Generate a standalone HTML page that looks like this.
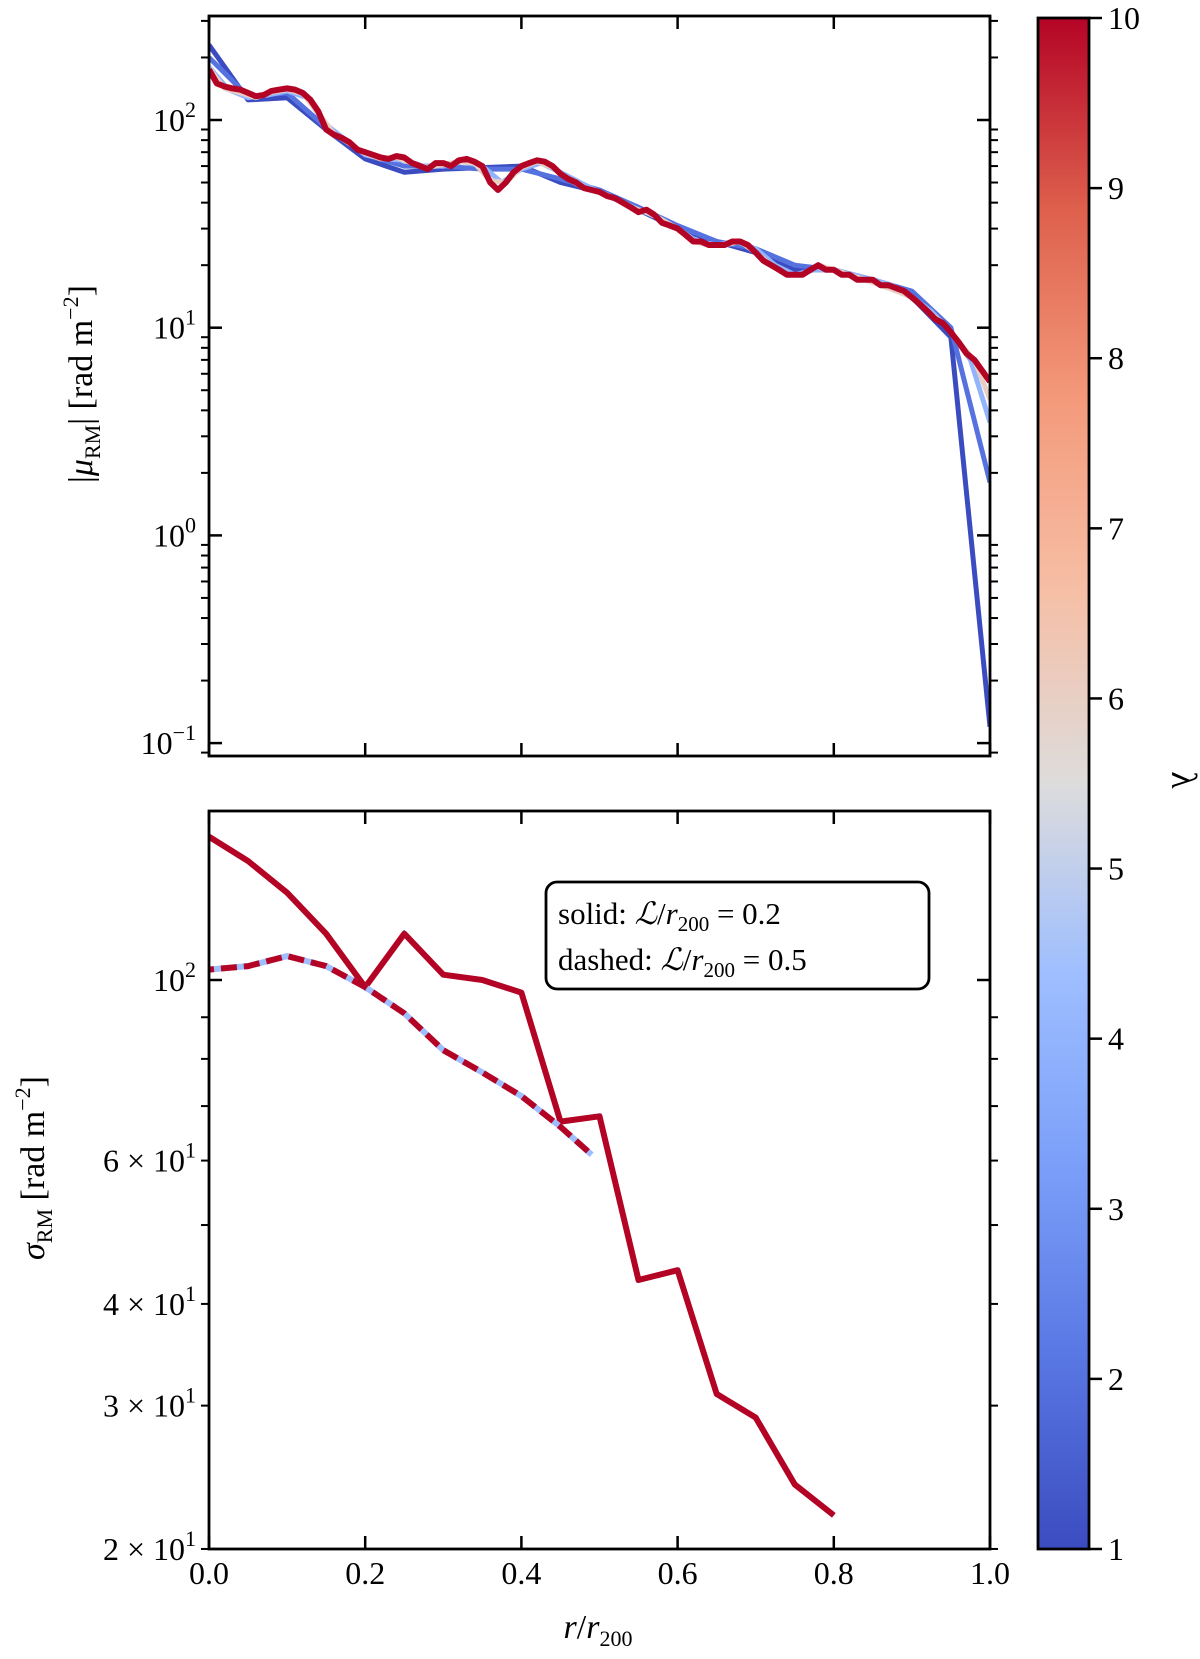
<!DOCTYPE html>
<html><head><meta charset="utf-8"><style>
body{margin:0;background:#fff;}
svg{display:block;font-family:"Liberation Serif",serif;}
</style></head><body>
<svg id="fig" width="1200" height="1659" viewBox="0 0 1200 1659" xmlns="http://www.w3.org/2000/svg">
<defs>
<linearGradient id="cw" x1="0" y1="1" x2="0" y2="0">
<stop offset="0" stop-color="#3b4cc0"/><stop offset="0.125" stop-color="#5977e3"/>
<stop offset="0.25" stop-color="#7b9ff9"/><stop offset="0.375" stop-color="#9ebeff"/>
<stop offset="0.5" stop-color="#dddcdc"/><stop offset="0.625" stop-color="#f6bfa6"/>
<stop offset="0.75" stop-color="#f49a7b"/><stop offset="0.875" stop-color="#de604d"/>
<stop offset="1" stop-color="#b40426"/></linearGradient>
<clipPath id="c1"><rect x="209" y="16" width="781" height="740"/></clipPath>
<clipPath id="c2"><rect x="209" y="811" width="781" height="738"/></clipPath>
</defs>
<g id="topPanel"></g>
<g id="botPanel"></g>
<g id="cbar"></g>
</svg>
<script>
// ---- data ----
const lam1R=[0,0.05,0.1,0.15,0.2,0.25,0.3,0.35,0.4,0.45,0.5,0.55,0.6,0.65,0.7,0.75,0.8,0.85,0.9,0.95,1.0];
const lam1V=[230,125,128,90,65,56,58,59,60,50,45,37,30,26,23,19,19,17,14,9,0.12];
const lam2R=[0,0.05,0.1,0.15,0.2,0.25,0.3,0.35,0.4,0.45,0.5,0.55,0.6,0.65,0.7,0.75,0.8,0.85,0.9,0.95,1.0];
const lam2V=[200,130,135,92,68,60,60,58,58,52,46,38,31,26,24,20,19,17,15,10,1.8];
const lam4R=[0,0.025,0.05,0.075,0.1,0.125,0.15,0.175,0.2,0.225,0.25,0.275,0.3,0.325,0.35,0.375,0.4,0.425,0.45,0.475,0.5,0.525,0.55,0.575,0.6,0.625,0.65,0.675,0.7,0.725,0.75,0.775,0.8,0.825,0.85,0.875,0.9,0.925,0.95,0.975,1.0];
const lam4V=[180,140,128,132,138,128,95,80,68,65,64,60,60,63,60,50,58,62,56,50,45,41,37,34,30,26,25,26,24,20,18,19,19,18,17,16,14,12,9.5,7,3.5];
const lam6R=[0,0.02,0.04,0.06,0.08,0.1,0.12,0.14,0.16,0.18,0.2,0.22,0.24,0.26,0.28,0.3,0.32,0.34,0.36,0.38,0.4,0.42,0.44,0.46,0.48,0.5,0.52,0.54,0.56,0.58,0.6,0.62,0.64,0.66,0.68,0.7,0.72,0.74,0.76,0.78,0.8,0.82,0.84,0.86,0.88,0.9,0.92,0.94,0.96,0.98,1.0];
const lam6V=[178,142,135,128,136,140,134,108,86,77,69,65,66,62,59,61,63,62,51,50,59,63,59,52,47,45,42,38,36,33,30,26,25,25,26,23,20,18,18,20,19,18,17,16,15,14,12,10.5,8.5,7,4.5];
const lam10R=[0,0.01,0.02,0.03,0.04,0.05,0.06,0.07,0.08,0.09,0.1,0.11,0.12,0.13,0.14,0.15,0.16,0.17,0.18,0.19,0.2,0.21,0.22,0.23,0.24,0.25,0.26,0.27,0.28,0.29,0.3,0.31,0.32,0.33,0.34,0.35,0.36,0.37,0.38,0.39,0.4,0.41,0.42,0.43,0.44,0.45,0.46,0.47,0.48,0.49,0.5,0.51,0.52,0.53,0.54,0.55,0.56,0.57,0.58,0.59,0.6,0.61,0.62,0.63,0.64,0.65,0.66,0.67,0.68,0.69,0.7,0.71,0.72,0.73,0.74,0.75,0.76,0.77,0.78,0.79,0.8,0.81,0.82,0.83,0.84,0.85,0.86,0.87,0.88,0.89,0.9,0.91,0.92,0.93,0.94,0.95,0.96,0.97,0.98,0.99,1.0];
const lam10V=[175,150,145,142,140,135,130,132,138,140,142,140,135,125,110,90,85,82,78,72,70,68,66,65,67,66,62,60,58,62,62,60,64,65,63,60,50,46,50,56,60,62,64,63,60,55,52,50,47,46,45,43,42,40,38,36,37,35,32,31,30,28,26,26,25,25,25,26,26,25,23,21,20,19,18,18,18,19,20,19,19,18,18,17,17,17,16,16,15.5,15,14,13,12,11,10.5,9.5,8.5,7.5,7,6.2,5.5];
const solidR=[0,0.05,0.1,0.15,0.2,0.25,0.3,0.35,0.4,0.45,0.5,0.55,0.6,0.65,0.7,0.75,0.8];
const solidV=[150,140,128,114,98,114,101.5,100,96.5,67,68,42.8,44,31,29,24,22];
const dashR=[0,0.05,0.1,0.15,0.2,0.25,0.3,0.35,0.4,0.45,0.49];
const dashV=[103,104,107,104,98,91,82,77,72,66,61];
const xTicks=[0,0.2,0.4,0.6,0.8,1.0];
const xTickLabels=["0.0","0.2","0.4","0.6","0.8","1.0"];
const cbTicks=[1,2,3,4,5,6,7,8,9,10];

// ---- scales ----
const X0=209,X1=990;
const sx=r=>X0+(X1-X0)*r;
const syT=v=>120-207.7*(Math.log10(v)-2);
const syB=v=>980-814*(Math.log10(v)-2);
const NS="http://www.w3.org/2000/svg";
function mk(tag,attrs,parent){const e=document.createElementNS(NS,tag);for(const k in attrs)e.setAttribute(k,attrs[k]);parent.appendChild(e);return e;}
const cwStops=[[0,[59,76,192]],[0.125,[89,119,227]],[0.25,[123,159,249]],[0.375,[158,190,255]],[0.5,[221,220,220]],[0.625,[246,191,166]],[0.75,[244,154,123]],[0.875,[222,96,77]],[1,[180,4,38]]];
function cw(t){for(let i=1;i<cwStops.length;i++){if(t<=cwStops[i][0]){const a=cwStops[i-1],b=cwStops[i];const f=(t-a[0])/(b[0]-a[0]);const c=a[1].map((v,j)=>Math.round(v+(b[1][j]-v)*f));return "rgb("+c.join(",")+")";}}return "rgb(180,4,38)";}
function pathD(R,V,sy){return R.map((r,i)=>(i?"L":"M")+sx(r).toFixed(1)+","+sy(V[i]).toFixed(1)).join("");}

const gTop=document.getElementById('topPanel'),gBot=document.getElementById('botPanel'),gCb=document.getElementById('cbar');

// ---- top series ----
const gT=mk('g',{'clip-path':'url(#c1)'},gTop);
[[lam1R,lam1V,1],[lam2R,lam2V,2],[lam4R,lam4V,4],[lam6R,lam6V,6],[lam10R,lam10V,10]].forEach(([R,V,l])=>{
  const p=mk('path',{d:pathD(R,V,syT),fill:'none',stroke:cw((l-1)/9),'stroke-width':l==10?6:5,'stroke-linejoin':'round'},gT);
  
  
});
// ---- bottom series ----
const gB=mk('g',{'clip-path':'url(#c2)'},gBot);
let p=mk('path',{d:pathD(solidR,solidV,syB),fill:'none',stroke:'#3b4cc0','stroke-width':5},gB);


p=mk('path',{d:pathD(solidR,solidV,syB),fill:'none',stroke:'#b40426','stroke-width':6,'stroke-linejoin':'round'},gB);


p=mk('path',{d:pathD(dashR,dashV,syB),fill:'none',stroke:'#9ebeff','stroke-width':6,'stroke-dasharray':'16 7'},gB);


p=mk('path',{d:pathD(dashR,dashV,syB),fill:'none',stroke:'#b40426','stroke-width':6,'stroke-dasharray':'16 7','stroke-dashoffset':'11'},gB);



// ---- axes frames & ticks ----
function frame(g,y0,y1){
  mk('rect',{x:X0,y:y0,width:X1-X0,height:y1-y0,fill:'none',stroke:'#000','stroke-width':2.8},g);
  xTicks.forEach(t=>{const x=sx(t);mk('line',{x1:x,x2:x,y1:y1,y2:y1-13,stroke:'#000','stroke-width':2.5},g);mk('line',{x1:x,x2:x,y1:y0,y2:y0+13,stroke:'#000','stroke-width':2.5},g);});
}
function ytickMaj(g,y){mk('line',{x1:X0,x2:X0+13,y1:y,y2:y,stroke:'#000','stroke-width':2.5},g);mk('line',{x1:X1,x2:X1-13,y1:y,y2:y,stroke:'#000','stroke-width':2.5},g);}
function ytickMin(g,y){mk('line',{x1:X0,x2:X0-8,y1:y,y2:y,stroke:'#000','stroke-width':2},g);mk('line',{x1:X1,x2:X1+8,y1:y,y2:y,stroke:'#000','stroke-width':2},g);}
function txt(g,x,y,s,anchor,size,name){const t=mk('text',{x:x,y:y,'text-anchor':anchor||'middle','font-size':size||30},g);t.innerHTML=s;
  
  
  return t;}
frame(gTop,16,756);frame(gBot,811,1549);
// top y ticks
[2,1,0,-1].forEach(e=>{const y=syT(Math.pow(10,e));ytickMaj(gTop,y);
  txt(gTop,196,y+11,'10<tspan dy="-14" font-size="22">'+(e<0?'−1':e)+'</tspan>','end',32,'y-tick-top-'+e);});
for(let e=-2;e<3;e++)for(let m=2;m<10;m++){const y=syT(m*Math.pow(10,e));if(y>16&&y<756)ytickMin(gTop,y);}
// bottom y ticks
ytickMaj(gBot,syB(100));
txt(gBot,196,syB(100)+11,'10<tspan dy="-14" font-size="22">2</tspan>','end',32,'y-tick-bottom-100');
[20,30,40,50,60,70,80,90].forEach(v=>{const y=syB(v);ytickMin(gBot,y);});
[2,3,4,6].forEach(m=>{txt(gBot,196,syB(m*10)+11,m+' × 10<tspan dy="-14" font-size="22">1</tspan>','end',32,'y-tick-bottom-'+m+'0');});
// x tick labels
xTicks.forEach((t,i)=>txt(gBot,sx(t),1584,xTickLabels[i],'middle',32,'x-tick-'+xTickLabels[i]));
// axis titles
let t=txt(gBot,598,1638,'<tspan font-style="italic">r</tspan>/<tspan font-style="italic">r</tspan><tspan font-size="22" dy="8">200</tspan>','middle',34,'x-axis-title');
t=txt(gTop,0,0,'|<tspan font-style="italic">μ</tspan><tspan font-size="22" dy="8">RM</tspan><tspan dy="-8">| [rad m</tspan><tspan font-size="22" dy="-14">−2</tspan><tspan dy="14">]</tspan>','middle',34,'y-axis-title-top');
t.setAttribute('transform','translate(92,384) rotate(-90)');
t=txt(gBot,0,0,'<tspan font-style="italic">σ</tspan><tspan font-size="22" dy="8">RM</tspan><tspan dy="-8"> [rad m</tspan><tspan font-size="22" dy="-14">−2</tspan><tspan dy="14">]</tspan>','middle',34,'y-axis-title-bottom');
t.setAttribute('transform','translate(44,1168) rotate(-90)');
// legend
const lg=mk('g',{},gBot);


mk('rect',{x:546,y:882,width:383,height:107,rx:11,fill:'#fff',stroke:'#000','stroke-width':2.8},lg);
txt(lg,558,924,'solid: <tspan font-style="italic">ℒ</tspan>/<tspan font-style="italic">r</tspan><tspan font-size="21" dy="7">200</tspan><tspan dy="-7"> = 0.2</tspan>','start',31,'legend-solid');
txt(lg,558,970,'dashed: <tspan font-style="italic">ℒ</tspan>/<tspan font-style="italic">r</tspan><tspan font-size="21" dy="7">200</tspan><tspan dy="-7"> = 0.5</tspan>','start',31,'legend-dashed');
// colorbar
mk('rect',{x:1038,y:18,width:51,height:1531,fill:'url(#cw)',stroke:'#000','stroke-width':2.8},gCb);
const cy=l=>1549-(l-1)*(1531/9);
cbTicks.forEach(l=>{const y=cy(l);mk('line',{x1:1089,x2:1102,y1:y,y2:y,stroke:'#000','stroke-width':2.5},gCb);
  txt(gCb,1108,y+11,String(l),'start',32,'colorbar-tick-'+l);});
t=txt(gCb,0,0,'λ','middle',36,'colorbar-label');
t.setAttribute('transform','translate(1172,780) rotate(90)');
</script>
</body></html>
